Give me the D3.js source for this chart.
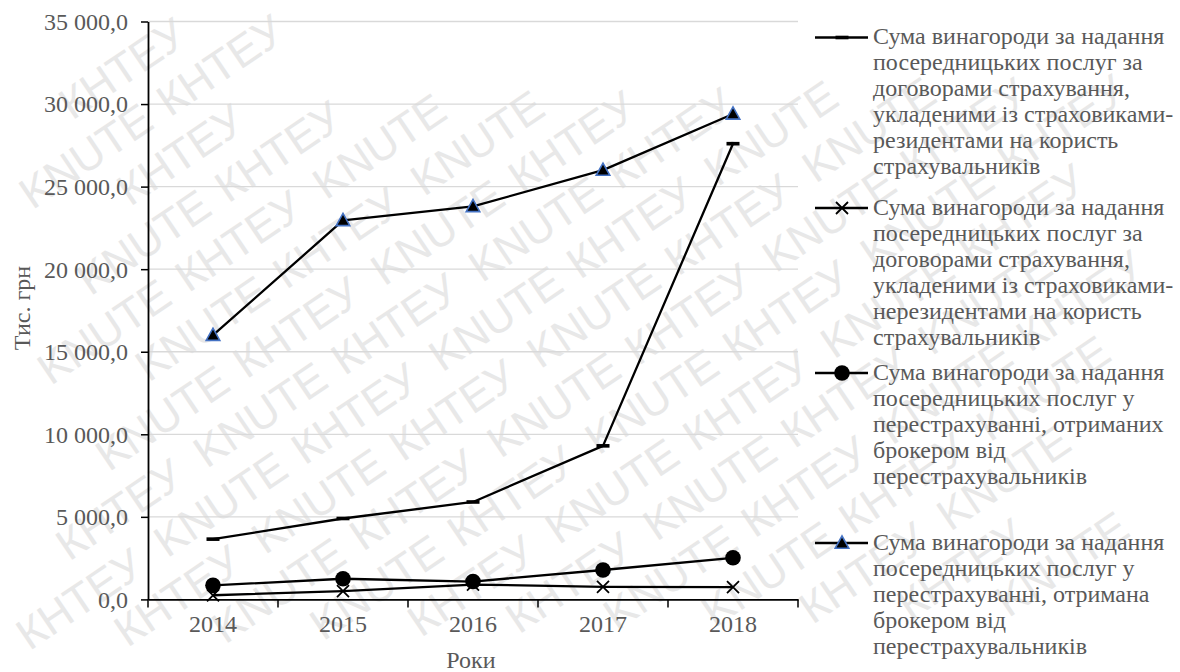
<!DOCTYPE html>
<html lang="uk">
<head>
<meta charset="utf-8">
<title>Сума винагороди за надання посередницьких послуг</title>
<script src="https://cdn.jsdelivr.net/npm/d3@7/dist/d3.min.js"></script>
<style>
  html, body { margin: 0; padding: 0; background: #ffffff; }
  svg { display: block; }
</style>
</head>
<body>
<svg id="chart" width="1180" height="672"></svg>
<script>
// Роки та значення, тис. грн
const years = ["2014", "2015", "2016", "2017", "2018"];
const residentInsurers = [3650, 4900, 5900, 9300, 27600];
const nonResidentInsurers = [250, 500, 900, 760, 740];
const reinsuranceFromReinsured = [850, 1250, 1080, 1780, 2520];
const reinsuranceBrokerFee = [16000, 22950, 23800, 26000, 29400];
const yTickValues = [0, 5000, 10000, 15000, 20000, 25000, 30000, 35000];

const legendResident = ["Сума винагороди за надання", "посередницьких послуг за", "договорами страхування,", "укладеними із страховиками-", "резидентами на користь", "страхувальників"];
const legendNonResident = ["Сума винагороди за надання", "посередницьких послуг за", "договорами страхування,", "укладеними із страховиками-", "нерезидентами на користь", "страхувальників"];
const legendReceived = ["Сума винагороди за надання", "посередницьких послуг у", "перестрахуванні, отриманих", "брокером від", "перестрахувальників"];
const legendBroker = ["Сума винагороди за надання", "посередницьких послуг у", "перестрахуванні, отримана", "брокером від", "перестрахувальників"];

const yAxisTitle = "Тис. грн";
const xAxisTitle = "Роки";
const watermarkWords = ["KNUTE", "КНТЕУ"];

const series = [
  { values: residentInsurers, legend: legendResident, marker: "dash" },
  { values: nonResidentInsurers, legend: legendNonResident, marker: "cross" },
  { values: reinsuranceFromReinsured, legend: legendReceived, marker: "circle" },
  { values: reinsuranceBrokerFee, legend: legendBroker, marker: "triangle" }
];

const W = 1180, H = 672;
const plot = { left: 148, right: 798, top: 21.5, bottom: 599.4 };
const textColor = "#595959";
const serif = "'Liberation Serif', 'Times New Roman', Times, serif";
const fontSize = 24;

const svg = d3.select("#chart");
svg.append("rect").attr("width", W).attr("height", H).attr("fill", "#ffffff");

// фонові водяні знаки: лише слова, що повністю вміщуються в полотно
const wmAngle = -34 * Math.PI / 180;
const wmSize = 44;
const wm = svg.append("g").attr("fill", "#e8e8e8");
const cosA = Math.cos(wmAngle), sinA = Math.sin(wmAngle);
const toScreen = (u, v) => [W / 2 + u * cosA - v * sinA, H / 2 + u * sinA + v * cosA];
const rowStep = 52, wordPitch = 166;
d3.range(-14, 15).forEach(r => {
  d3.range(-9, 10).forEach(c => {
    const u = c * wordPitch + ((r % 2 + 2) % 2) * wordPitch / 2 - 60;
    const v = r * rowStep;
    const word = watermarkWords[((c + r) % 2 + 2) % 2];
    const t = wm.append("text")
      .style("font-family", "'Liberation Sans', Arial, sans-serif")
      .style("font-size", wmSize + "px")
      .attr("transform", () => {
        const [sx, sy] = toScreen(u, v);
        return `translate(${sx},${sy}) rotate(${wmAngle * 180 / Math.PI})`;
      })
      .text(word);
    const len = t.node().getComputedTextLength();
    const corners = [[u, v - 0.92 * wmSize], [u + len, v - 0.92 * wmSize], [u, v + 0.22 * wmSize], [u + len, v + 0.22 * wmSize]]
      .map(([a, b]) => toScreen(a, b));
    const inside = corners.every(([sx, sy]) => sx >= 3 && sx <= W - 3 && sy >= 3 && sy <= H - 3);
    if (!inside) t.remove();
  });
});

const x = d3.scaleBand().domain(years).range([plot.left, plot.right]).padding(0);
const y = d3.scaleLinear().domain([0, 35000]).range([plot.bottom, plot.top]);
const cx = d => x(d) + x.bandwidth() / 2;

const fmt = d3.formatLocale({ decimal: ",", thousands: " ", grouping: [3], currency: ["", ""] }).format(",.1f");

// сітка
svg.append("g")
  .selectAll("line")
  .data(yTickValues.filter(v => v > 0))
  .join("line")
  .attr("x1", plot.left).attr("x2", plot.right)
  .attr("y1", d => y(d)).attr("y2", d => y(d))
  .attr("stroke", "#d9d9d9").attr("stroke-width", 1.3);

// вісь Y
const yAxis = svg.append("g")
  .attr("transform", `translate(${plot.left},0)`)
  .call(d3.axisLeft(y).tickValues(yTickValues).tickFormat(fmt).tickSize(7).tickSizeOuter(0).tickPadding(13));
yAxis.select(".domain").attr("stroke", "#000").attr("stroke-width", 1.8);
yAxis.selectAll(".tick line").attr("stroke", "#000").attr("stroke-width", 1.5);
yAxis.selectAll(".tick text")
  .attr("fill", textColor)
  .style("font-family", serif)
  .style("font-size", fontSize + "px")
  .attr("dy", "0.33em");

// вісь X
const xAxis = svg.append("g")
  .attr("transform", `translate(0,${plot.bottom})`)
  .call(d3.axisBottom(x).tickSize(0).tickSizeOuter(0).tickPadding(16));
xAxis.select(".domain").attr("stroke", "#000").attr("stroke-width", 1.8);
xAxis.selectAll(".tick text")
  .attr("fill", textColor)
  .style("font-family", serif)
  .style("font-size", fontSize + "px");
xAxis.selectAll("line.boundary")
  .data(years.map(d => x(d)).concat([x.range()[1]]))
  .join("line")
  .attr("class", "boundary")
  .attr("x1", d => d).attr("x2", d => d)
  .attr("y1", 0).attr("y2", 8)
  .attr("stroke", "#000").attr("stroke-width", 1.5);

// назви осей
svg.append("text")
  .attr("transform", "translate(30,308) rotate(-90)")
  .attr("text-anchor", "middle")
  .attr("fill", textColor)
  .style("font-family", serif)
  .style("font-size", fontSize + "px")
  .text(yAxisTitle);
svg.append("text")
  .attr("x", 471).attr("y", 668)
  .attr("text-anchor", "middle")
  .attr("fill", textColor)
  .style("font-family", serif)
  .style("font-size", fontSize + "px")
  .text(xAxisTitle);

// маркери
function drawMarker(g, type, px, py) {
  if (type === "dash") {
    g.append("rect").attr("x", px - 6.5).attr("y", py - 1.8).attr("width", 13).attr("height", 3.6).attr("fill", "#000");
  } else if (type === "cross") {
    const s = 6;
    g.append("path")
      .attr("d", `M${px - s},${py - s}L${px + s},${py + s}M${px - s},${py + s}L${px + s},${py - s}`)
      .attr("stroke", "#000").attr("stroke-width", 1.8).attr("fill", "none");
  } else if (type === "circle") {
    g.append("circle").attr("cx", px).attr("cy", py).attr("r", 7.8).attr("fill", "#000");
  } else if (type === "triangle") {
    g.append("path")
      .attr("d", `M${px},${py - 7}L${px + 6.8},${py + 5.2}L${px - 6.8},${py + 5.2}Z`)
      .attr("fill", "#000").attr("stroke", "#4472c4").attr("stroke-width", 1.6)
      .attr("stroke-linejoin", "miter");
  }
}

const line = d3.line().x((d, i) => cx(years[i])).y(d => y(d));

series.forEach(s => {
  const g = svg.append("g");
  g.append("path")
    .attr("d", line(s.values))
    .attr("fill", "none")
    .attr("stroke", "#000")
    .attr("stroke-width", 2.3)
    .attr("stroke-linejoin", "round");
  s.values.forEach((v, i) => drawMarker(g, s.marker, cx(years[i]), y(v)));
});

// легенда
const legendY = [37.5, 208, 373, 543];
const lineGap = 26;
series.forEach((s, k) => {
  const g = svg.append("g");
  const ly = legendY[k];
  g.append("line").attr("x1", 815).attr("x2", 868).attr("y1", ly).attr("y2", ly)
    .attr("stroke", "#000").attr("stroke-width", 2.3);
  drawMarker(g, s.marker, 842, ly);
  const t = g.append("text")
    .attr("fill", textColor)
    .style("font-family", serif)
    .style("font-size", fontSize + "px");
  s.legend.forEach((ln, j) => {
    t.append("tspan").attr("x", 873).attr("y", ly + 6.7 + j * lineGap).text(ln);
  });
});
</script>
</body>
</html>
